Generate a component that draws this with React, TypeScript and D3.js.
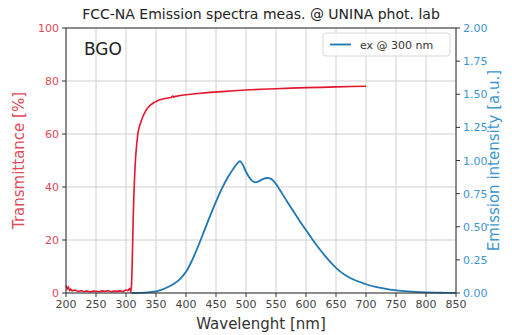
import React from "react";
import * as d3 from "d3";

const title = "FCC-NA Emission spectra meas. @ UNINA phot. lab";
const sampleLabel = "BGO";
const legendLabel = "ex @ 300 nm";
const xLabel = "Wavelenght [nm]";
const yLeftLabel = "Transmittance [%]";
const yRightLabel = "Emission intensity [a.u.]";

const xTicks = [200, 250, 300, 350, 400, 450, 500, 550, 600, 650, 700, 750, 800, 850];
const yLeftTicks = [0, 20, 40, 60, 80, 100];
const yRightTicks = [0, 0.25, 0.5, 0.75, 1.0, 1.25, 1.5, 1.75, 2.0];

const trWl = [200, 202, 204, 206, 208, 210, 215, 220, 225, 230, 235, 240, 245, 250, 255, 260, 265, 270, 275, 280, 285, 290, 295, 300, 303, 306, 308, 309, 310, 311, 312, 313, 314, 315, 316, 317, 318, 319, 320, 322, 324, 326, 328, 330, 333, 336, 340, 345, 350, 355, 360, 365, 370, 375, 378, 380, 382, 385, 390, 400, 420, 440, 460, 480, 500, 525, 550, 575, 600, 625, 650, 675, 700];
const trVal = [2.8, 1.5, 2.2, 1.0, 1.4, 0.8, 1.1, 0.6, 0.9, 0.5, 0.8, 0.4, 0.7, 0.6, 0.5, 0.8, 0.6, 0.9, 0.5, 0.7, 0.6, 0.8, 0.5, 1.2, 0.9, 1.6, 0.6, 2, 8, 18, 28, 36, 42, 47, 51, 54, 56.5, 58.5, 60.5, 62.5, 64, 65.3, 66.5, 67.5, 68.8, 69.8, 70.8, 71.6, 72.3, 72.8, 73.1, 73.4, 73.6, 73.8, 74.3, 73.9, 74.2, 74.3, 74.5, 74.8, 75.3, 75.7, 76.0, 76.3, 76.6, 76.9, 77.1, 77.3, 77.5, 77.6, 77.8, 77.9, 78.0];

const emWl = [310, 320, 330, 340, 350, 360, 370, 380, 390, 400, 410, 420, 430, 440, 450, 460, 470, 480, 485, 490, 495, 500, 505, 510, 515, 520, 525, 530, 535, 540, 545, 550, 560, 570, 580, 590, 600, 610, 620, 630, 640, 650, 660, 670, 680, 690, 700, 720, 740, 760, 780, 800, 825, 850];
const emVal = [0, 0.001, 0.003, 0.006, 0.012, 0.025, 0.045, 0.07, 0.105, 0.16, 0.245, 0.35, 0.465, 0.58, 0.69, 0.79, 0.875, 0.945, 0.975, 0.995, 0.965, 0.915, 0.875, 0.848, 0.836, 0.84, 0.853, 0.864, 0.868, 0.865, 0.85, 0.822, 0.752, 0.68, 0.61, 0.54, 0.475, 0.41, 0.347, 0.29, 0.237, 0.19, 0.152, 0.122, 0.1, 0.083, 0.066, 0.042, 0.026, 0.016, 0.009, 0.005, 0.002, 0.001];

const W = 512, H = 335;
const L = 66, R = 456, T = 28, B = 293;
const RED = "#e4162e";
const RED_TXT = "#e04a5a";
const BLUE = "#1f77b4";
const BLUE_TXT = "#3d97cf";
const FONT = "DejaVu Sans, sans-serif";

export default function App() {
  const x = d3.scaleLinear().domain([200, 850]).range([L, R]);
  const yL = d3.scaleLinear().domain([0, 100]).range([B, T]);
  const yR = d3.scaleLinear().domain([0, 2]).range([B, T]);

  const trLine = d3.line<number>().x((_, i) => x(trWl[i])).y((v) => yL(v))(trVal) || "";
  const emLine = d3.line<number>().x((_, i) => x(emWl[i])).y((v) => yR(v)).curve(d3.curveCatmullRom.alpha(0.5))(emVal) || "";

  return (
    <svg width={W} height={H} style={{ position: "absolute", left: 0, top: 0, background: "#fff" }} fontFamily={FONT}>
      <rect x={0} y={0} width={W} height={H} fill="#fff" />
      {xTicks.map((t) => (
        <line key={"gx" + t} x1={x(t)} x2={x(t)} y1={T} y2={B} stroke="#d0d0d0" strokeWidth={1} />
      ))}
      {yLeftTicks.map((t) => (
        <line key={"gy" + t} x1={L} x2={R} y1={yL(t)} y2={yL(t)} stroke="#d0d0d0" strokeWidth={1} />
      ))}
      <path d={trLine} fill="none" stroke={RED} strokeWidth={1.6} />
      <path d={emLine} fill="none" stroke={BLUE} strokeWidth={1.8} />
      <rect x={L} y={T} width={R - L} height={B - T} fill="none" stroke="#333" strokeWidth={1} />
      {xTicks.map((t) => (
        <g key={"xt" + t}>
          <line x1={x(t)} x2={x(t)} y1={B} y2={B + 4} stroke="#333" />
          <text x={x(t)} y={B + 15} textAnchor="middle" fontSize={11} fill="#444">{t}</text>
        </g>
      ))}
      {yLeftTicks.map((t) => (
        <g key={"yl" + t}>
          <line x1={L - 4} x2={L} y1={yL(t)} y2={yL(t)} stroke="#333" />
          <text x={L - 7} y={yL(t) + 4} textAnchor="end" fontSize={11} fill={RED_TXT}>{t}</text>
        </g>
      ))}
      {yRightTicks.map((t) => (
        <g key={"yr" + t}>
          <line x1={R} x2={R + 4} y1={yR(t)} y2={yR(t)} stroke="#333" />
          <text x={R + 7} y={yR(t) + 4} textAnchor="start" fontSize={11} fill={BLUE_TXT}>{t.toFixed(2)}</text>
        </g>
      ))}
      <text x={(L + R) / 2} y={19} textAnchor="middle" fontSize={14} fill="#222">{title}</text>
      <text x={(L + R) / 2} y={329} textAnchor="middle" fontSize={15} fill="#333">{xLabel}</text>
      <text transform={`translate(24,${(T + B) / 2}) rotate(-90)`} textAnchor="middle" fontSize={15} fill={RED_TXT}>{yLeftLabel}</text>
      <text transform={`translate(499,${(T + B) / 2}) rotate(-90)`} textAnchor="middle" fontSize={15} fill={BLUE_TXT}>{yRightLabel}</text>
      <text x={84} y={55} fontSize={17} fill="#222">{sampleLabel}</text>
      <rect x={323} y={33} width={127} height={23} rx={3} fill="#fff" fillOpacity={0.8} stroke="#d8d8d8" />
      <line x1={330} x2={351} y1={44.5} y2={44.5} stroke={BLUE} strokeWidth={1.8} />
      <text x={360} y={48.5} fontSize={11} fill="#333">{legendLabel}</text>
    </svg>
  );
}
